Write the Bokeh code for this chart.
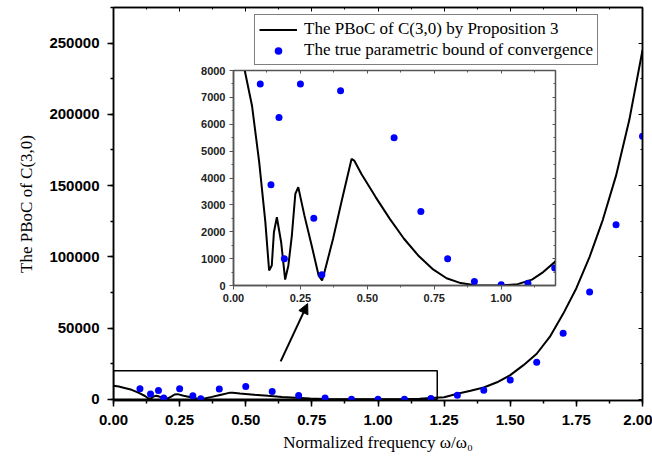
from bokeh.plotting import figure
from bokeh.models import (Range1d, SingleIntervalTicker, NumeralTickFormatter, LinearAxis,
                          Legend, LegendItem, Arrow, NormalHead, CustomJSTickFormatter)
from bokeh.layouts import column
from bokeh.embed import file_html
from bokeh.resources import INLINE

# ---- data ----
curve_x = [0.0, 0.02, 0.042, 0.069, 0.096, 0.119, 0.133, 0.143, 0.151, 0.162, 0.178, 0.193,
           0.205, 0.218, 0.231, 0.242, 0.265, 0.292, 0.318, 0.331, 0.340, 0.372, 0.403, 0.441,
           0.451, 0.478, 0.531, 0.584, 0.637, 0.690, 0.743, 0.796, 0.849, 0.902, 0.955, 1.0,
           1.062, 1.115, 1.157, 1.2, 1.25, 1.3, 1.35, 1.4, 1.45, 1.5, 1.55, 1.6, 1.65, 1.7,
           1.75, 1.8, 1.85, 1.9, 1.95, 2.0]
curve_y = [9500, 9000, 8000, 6700, 4590, 2360, 560, 745, 1980, 2540, 1610, 220,
           745, 1860, 3410, 3660, 2600, 1490, 370, 190, 500, 1740, 3100, 4710,
           4650, 4150, 3290, 2480, 1740, 1120, 620, 270, 90, 12, 0, 0,
           50, 220, 500, 870, 1500, 4000, 6000, 8300, 12000, 17000, 24000, 32000, 44000, 60000,
           78000, 100000, 126000, 157000, 196000, 245000]

true_x = [0.10, 0.14, 0.17, 0.19, 0.25, 0.30, 0.33, 0.40, 0.50, 0.60, 0.70, 0.80, 0.90, 1.00,
          1.10, 1.20, 1.30, 1.40, 1.50, 1.60, 1.70, 1.80, 1.90, 2.00]
true_y = [7500, 3750, 6250, 1000, 7500, 2500, 400, 7250, 9000, 5500, 2750, 1000, 150, 25,
          80, 650, 2800, 6400, 13600, 26000, 46400, 75300, 122500, 184700]

zoom_box = [0.0, 1.224, 0.0, 20000]          # x0, x1, y0, y1 of the zoomed region
arrow_from = (0.632, 26700)
arrow_to = (0.734, 67200)

label_curve = "The PBoC of C(3,0) by Proposition 3"
label_true = "The true parametric bound of convergence"
x_label = "Normalized frequency ω/ω₀"
y_label = "The PBoC of C(3,0)"

TICK_FONT = "Liberation Sans"
SERIF = "Liberation Serif"
BLUE = "#0000ff"

# ---- main figure ----
p = figure(width=652, height=461, output_backend="svg", toolbar_location=None,
           x_range=Range1d(0, 2.0), y_range=Range1d(-800, 275000),
           min_border_left=113, min_border_right=10, min_border_top=7, min_border_bottom=61)
p.xgrid.visible = False
p.ygrid.visible = False
p.outline_line_color = "black"
p.outline_line_width = 1.5
p.background_fill_color = "white"
p.border_fill_color = "white"

p.xaxis.ticker = SingleIntervalTicker(interval=0.25, num_minor_ticks=2)
p.yaxis.ticker = SingleIntervalTicker(interval=50000, num_minor_ticks=2)
p.xaxis.formatter = NumeralTickFormatter(format="0.00")
p.yaxis.formatter = NumeralTickFormatter(format="0")
for ax in (p.xaxis[0], p.yaxis[0]):
    ax.axis_line_width = 1.5
    ax.axis_line_color = "black"
    ax.major_tick_line_width = 1.5
    ax.minor_tick_line_width = 1.5
    ax.major_tick_out = 6
    ax.major_tick_in = 0
    ax.minor_tick_out = 3
    ax.minor_tick_in = 0
    ax.major_label_text_font = TICK_FONT
    ax.major_label_text_font_style = "bold"
    ax.major_label_text_font_size = "15px"
    ax.major_label_text_color = "black"
    ax.major_label_standoff = 8
    ax.axis_label_text_font = SERIF
    ax.axis_label_text_font_style = "normal"
    ax.axis_label_text_font_size = "17px"
    ax.axis_label_text_color = "black"
p.xaxis.axis_label = x_label
p.yaxis.axis_label = y_label
p.xaxis.axis_label_standoff = 5
p.yaxis.axis_label_standoff = 10

blank = CustomJSTickFormatter(code="return ''")
top_ax = LinearAxis(ticker=SingleIntervalTicker(interval=0.25, num_minor_ticks=2), formatter=blank)
right_ax = LinearAxis(ticker=SingleIntervalTicker(interval=50000, num_minor_ticks=2), formatter=blank)
for ax in (top_ax, right_ax):
    ax.axis_line_width = 1.5
    ax.major_tick_in = 4
    ax.major_tick_out = 0
    ax.minor_tick_in = 2
    ax.minor_tick_out = 0
    ax.major_label_standoff = 0
    ax.major_label_text_font_size = "0px"
p.add_layout(top_ax, "above")
p.add_layout(right_ax, "right")

p.quad(left=[zoom_box[0]], right=[zoom_box[1]], bottom=[zoom_box[2]], top=[zoom_box[3]],
       fill_color=None, line_color="black", line_width=1.5)

r_line = p.line(curve_x, curve_y, line_color="black", line_width=2)
r_dots = p.scatter(true_x, true_y, size=7, fill_color=BLUE, line_color=None)

p.add_layout(Arrow(end=NormalHead(size=10, fill_color="black", line_color="black"),
                   x_start=arrow_from[0], y_start=arrow_from[1],
                   x_end=arrow_to[0], y_end=arrow_to[1],
                   line_color="black", line_width=2))

legend = Legend(items=[LegendItem(label=label_curve, renderers=[r_line]),
                       LegendItem(label=label_true, renderers=[r_dots])],
                location=(141, 335))
legend.label_text_font = SERIF
legend.label_text_font_size = "17px"
legend.label_text_color = "black"
legend.border_line_color = "black"
legend.border_line_width = 1
legend.background_fill_color = "white"
legend.background_fill_alpha = 1
legend.glyph_width = 38
legend.glyph_height = 19
legend.label_height = 19
legend.label_standoff = 7
legend.padding = 4
legend.spacing = 1
legend.margin = 0
p.add_layout(legend, "center")

# ---- inset figure ----
inset = figure(width=445, height=247, output_backend="svg", toolbar_location=None,
               x_range=Range1d(0, 1.203), y_range=Range1d(0, 8000),
               min_border_left=60, min_border_right=7, min_border_top=10, min_border_bottom=22)
inset.styles = {"position": "absolute", "left": "120px", "top": "60px"}
inset.xgrid.visible = False
inset.ygrid.visible = False
inset.background_fill_color = "white"
inset.border_fill_alpha = 0
inset.outline_line_color = "#555555"
inset.outline_line_width = 1.5
inset.xaxis.ticker = SingleIntervalTicker(interval=0.25, num_minor_ticks=2)
inset.yaxis.ticker = SingleIntervalTicker(interval=1000, num_minor_ticks=2)
inset.xaxis.formatter = NumeralTickFormatter(format="0.00")
inset.yaxis.formatter = NumeralTickFormatter(format="0")
for ax in (inset.xaxis[0], inset.yaxis[0]):
    ax.axis_line_width = 1.5
    ax.axis_line_color = "#555555"
    ax.major_tick_line_color = "#555555"
    ax.minor_tick_line_color = "#555555"
    ax.major_tick_out = 4
    ax.major_tick_in = 0
    ax.minor_tick_out = 2
    ax.minor_tick_in = 0
    ax.major_label_text_font = TICK_FONT
    ax.major_label_text_font_style = "bold"
    ax.major_label_text_font_size = "11px"
    ax.major_label_text_color = "#222222"
    ax.major_label_standoff = 4
itop = LinearAxis(ticker=SingleIntervalTicker(interval=0.25, num_minor_ticks=2), formatter=blank)
iright = LinearAxis(ticker=SingleIntervalTicker(interval=1000, num_minor_ticks=2), formatter=blank)
for ax in (itop, iright):
    ax.axis_line_color = "#555555"
    ax.major_tick_line_color = "#555555"
    ax.minor_tick_line_color = "#555555"
    ax.major_tick_in = 3
    ax.major_tick_out = 0
    ax.minor_tick_in = 2
    ax.minor_tick_out = 0
    ax.major_label_standoff = 0
    ax.major_label_text_font_size = "0px"
inset.add_layout(itop, "above")
inset.add_layout(iright, "right")

inset.line(curve_x, curve_y, line_color="black", line_width=2)
inset.scatter(true_x, true_y, size=7, fill_color=BLUE, line_color=None)

layout = column(p, inset)
open("out.html", "w").write(file_html(layout, INLINE))
